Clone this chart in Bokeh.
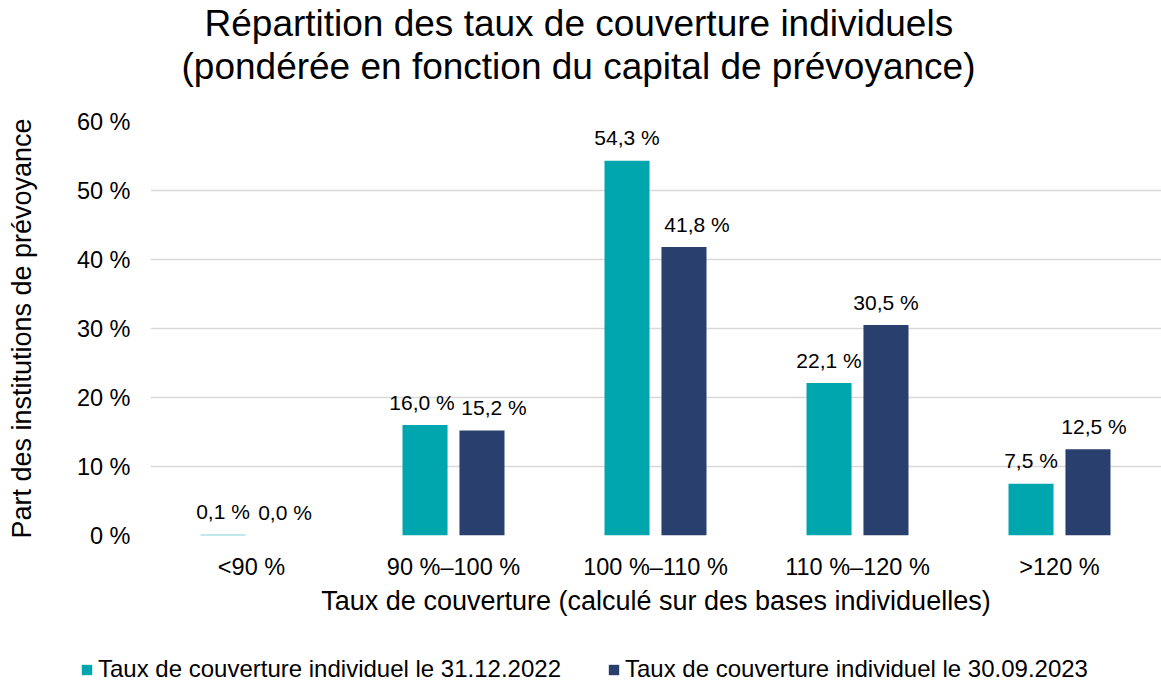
import numpy as np
from bokeh.plotting import figure
from bokeh.layouts import column
from bokeh.models import (ColumnDataSource, Range1d, FixedTicker, Title, Legend, LegendItem)
from bokeh.core.properties import value
from bokeh.embed import file_html
from bokeh.resources import INLINE

# ---- data ----
categories = ["<90 %", "90 %\u2013100 %", "100 %\u2013110 %", "110 %\u2013120 %", ">120 %"]
series_2022 = [0.1, 16.0, 54.3, 22.1, 7.5]
series_2023 = [0.0, 15.2, 41.8, 30.5, 12.5]
series_names = ["Taux de couverture individuel le 31.12.2022",
                "Taux de couverture individuel le 30.09.2023"]
y_ticks = [0, 10, 20, 30, 40, 50, 60]
y_tick_labels = ["0 %", "10 %", "20 %", "30 %", "40 %", "50 %", "60 %"]
title_lines = ["R\u00e9partition des taux de couverture individuels",
               "(pond\u00e9r\u00e9e en fonction du capital de pr\u00e9voyance)"]
x_title = "Taux de couverture (calcul\u00e9 sur des bases individuelles)"
y_title = "Part des institutions de pr\u00e9voyance"

# style: small horizontal nudges (px) of the value labels, as in the original
nudge_2022 = [0, -3, 0, 0, 0]
nudge_2023 = [5, 12, 13, 0, 6]

TEAL = "#00A6AE"
NAVY = "#29406E"
FONT = "Liberation Sans"

def fmt(v):
    return ("%.1f" % v).replace(".", ",") + " %"

x_pos = np.arange(len(categories)) + 0.5
off = 0.141
bw = 0.223

W, H = 1161, 683
LEG_H = 30
MAIN_H = H - LEG_H
left = 150
bottom = MAIN_H - 535
frame_w = W - left
x_end = frame_w / 202.0

p = figure(width=W, height=MAIN_H, output_backend="svg", toolbar_location=None,
           x_range=Range1d(0, x_end), y_range=Range1d(0, 60),
           min_border_left=left, min_border_right=0, min_border_top=0,
           min_border_bottom=bottom, background_fill_color="white",
           border_fill_color="white", outline_line_color=None)

src1 = ColumnDataSource(dict(x=x_pos - off, top=series_2022,
                             lab=[fmt(v) for v in series_2022], dx=nudge_2022))
src2 = ColumnDataSource(dict(x=x_pos + off, top=series_2023,
                             lab=[fmt(v) for v in series_2023], dx=nudge_2023))

p.xgrid.grid_line_color = None
p.ygrid.grid_line_color = "#D9D9D9"
p.ygrid.grid_line_width = 1.5

r1 = p.vbar(x="x", top="top", width=bw, bottom=0, source=src1,
            fill_color=TEAL, line_color=None)
r2 = p.vbar(x="x", top="top", width=bw, bottom=0, source=src2,
            fill_color=NAVY, line_color=None)

for s in (src1, src2):
    p.text(x="x", y="top", text="lab", source=s, text_align="center",
           text_baseline="alphabetic", y_offset=-23, x_offset="dx",
           text_font=value(FONT), text_font_size="21px", text_color="#000000")

# axes
p.xaxis.ticker = FixedTicker(ticks=list(x_pos))
p.xaxis.major_label_overrides = {float(x): c for x, c in zip(x_pos, categories)}
p.yaxis.ticker = FixedTicker(ticks=y_ticks)
p.yaxis.major_label_overrides = {t: l for t, l in zip(y_ticks, y_tick_labels)}
for ax in (p.xaxis, p.yaxis):
    ax.axis_line_color = None
    ax.major_tick_line_color = None
    ax.minor_tick_line_color = None
    ax.major_tick_out = 0
    ax.major_tick_in = 0
    ax.major_label_text_font = FONT
    ax.major_label_text_font_size = "23.5px"
    ax.major_label_text_color = "#000000"
    ax.axis_label_text_font = FONT
    ax.axis_label_text_font_size = "27px"
    ax.axis_label_text_font_style = "normal"
    ax.axis_label_text_color = "#000000"
p.xaxis.axis_label = x_title
p.yaxis.axis_label = y_title
p.yaxis.major_label_standoff = 20
p.xaxis.major_label_standoff = 18
p.xaxis.axis_label_standoff = 3
p.yaxis.axis_label_standoff = 37

# title (stacked: filler nearest the frame, then line 2, then line 1)
p.add_layout(Title(text=" ", text_font=FONT, text_font_size="12px",
                   standoff=19, align="left"), "above")
p.add_layout(Title(text=title_lines[1], text_font=FONT, text_font_size="37px",
                   text_font_style="normal", text_color="#000000",
                   align="left", offset=31, standoff=0), "above")
p.add_layout(Title(text=title_lines[0], text_font=FONT, text_font_size="37px",
                   text_font_style="normal", text_color="#000000",
                   align="left", offset=54, standoff=0), "above")

# ---- legend strip below the chart ----
pl = figure(width=W, height=LEG_H, output_backend="svg", toolbar_location=None,
            x_range=Range1d(0, 1), y_range=Range1d(0, 1),
            x_axis_location=None, y_axis_location=None, frame_align=False,
            min_border_left=0, min_border_right=0, min_border_top=0,
            min_border_bottom=0, background_fill_color="white",
            border_fill_color="white", outline_line_color=None)
pl.xgrid.grid_line_color = None
pl.ygrid.grid_line_color = None
lr1 = pl.vbar(x="x", top="top", width=bw, source=src1, fill_color=TEAL,
              line_color=None, visible=False)
lr2 = pl.vbar(x="x", top="top", width=bw, source=src2, fill_color=NAVY,
              line_color=None, visible=False)
legend = Legend(items=[LegendItem(label=series_names[0], renderers=[lr1]),
                       LegendItem(label=series_names[1], renderers=[lr2])],
                orientation="horizontal", location=(80, 0),
                label_text_font=FONT, label_text_font_size="24px",
                label_text_color="#000000",
                glyph_width=13, glyph_height=13, label_standoff=5,
                spacing=46, padding=0, margin=0,
                inactive_fill_alpha=0,
                border_line_color=None, background_fill_alpha=0)
pl.add_layout(legend, "center")

layout = column(p, pl, spacing=0)
open("out.html", "w").write(file_html(layout, INLINE))
